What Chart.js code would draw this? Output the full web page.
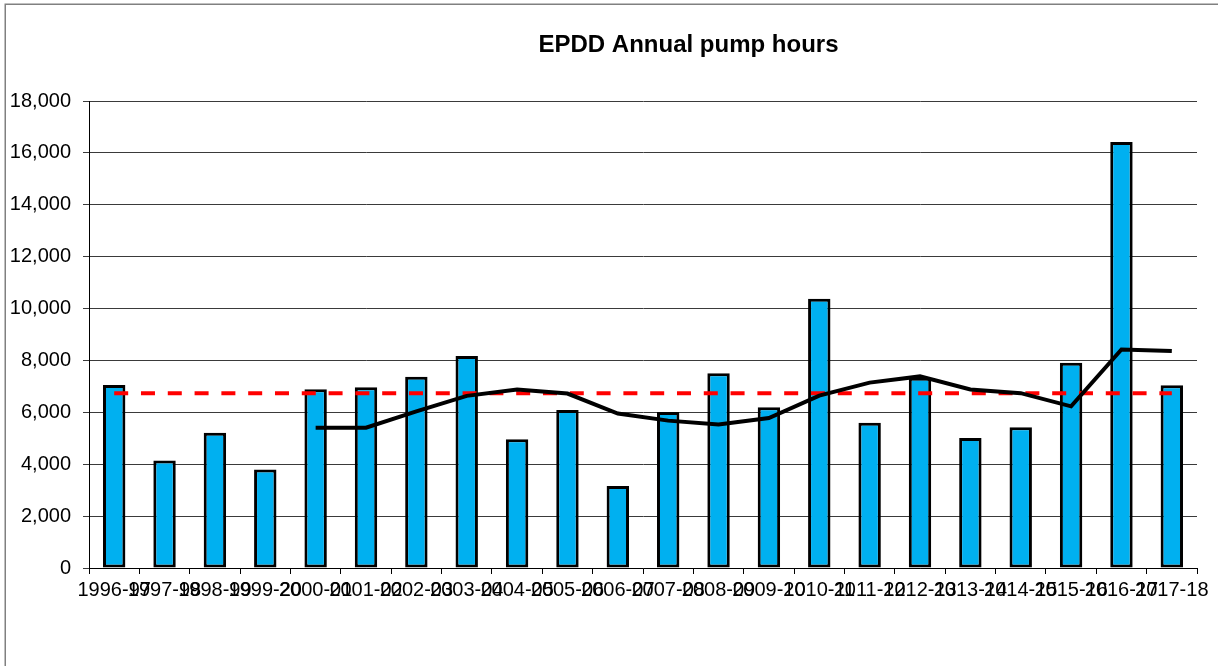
<!DOCTYPE html>
<html>
<head>
<meta charset="utf-8">
<script src="https://cdn.jsdelivr.net/npm/chart.js@4"></script>
<style>
html,body{margin:0;padding:0;background:#fff;}
#wrap{width:1218px;height:666px;position:relative;}
</style>
</head>
<body>
<div id="wrap"><canvas id="c"></canvas></div>
<script>
const categories = ["1996-97","1997-98","1998-99","1999-20","2000-01","2001-02","2002-03","2003-04","2004-05","2005-06","2006-07","2007-08","2008-09","2009-10","2010-11","2011-12","2012-13","2013-14","2014-15","2015-16","2016-17","2017-18"];
const pumpHours = [7050,4140,5215,3800,6890,6965,7375,8170,4960,6090,3160,6015,7505,6195,10380,5600,7330,5010,5425,7915,16420,7045];
const movingAverage = [null,null,null,null,5410,5405,6040,6635,6880,6725,5955,5680,5530,5780,6645,7145,7385,6880,6740,6230,8425,8360];
const meanLine = [6740,6740,6740,6740,6740,6740,6740,6740,6740,6740,6740,6740,6740,6740,6740,6740,6740,6740,6740,6740,6740,6740];
const yTicks = [0,2000,4000,6000,8000,10000,12000,14000,16000,18000];
const titleText = "EPDD Annual pump hours";

const FONT = '"Liberation Sans", Arial, sans-serif';

const decor = {
  id: 'decor',
  beforeDraw(chart) {
    const ctx = chart.ctx;
    ctx.save();
    ctx.fillStyle = '#fff';
    ctx.fillRect(0, 0, chart.width, chart.height);
    ctx.strokeStyle = '#808080';
    ctx.lineWidth = 1.5;
    ctx.strokeRect(5.25, 4.25, 1400, 700);
    ctx.restore();
  },
  afterDraw(chart) {
    const ctx = chart.ctx;
    ctx.save();
    ctx.font = 'bold 24px ' + FONT;
    ctx.fillStyle = '#000';
    ctx.textAlign = 'center';
    ctx.textBaseline = 'alphabetic';
    ctx.fillText(titleText, 688.5, 52);
    ctx.restore();
  }
};

new Chart(document.getElementById('c'), {
  type: 'bar',
  data: {
    labels: categories,
    datasets: [
      {
        type: 'line',
        label: 'Moving average',
        data: movingAverage,
        borderColor: '#000',
        borderWidth: 4,
        pointRadius: 0,
        tension: 0,
        fill: false,
        order: 1
      },
      {
        type: 'line',
        label: 'Mean',
        data: meanLine,
        borderColor: '#FF0000',
        borderWidth: 4,
        borderDash: [14, 12.8],
        borderCapStyle: 'butt',
        pointRadius: 0,
        tension: 0,
        fill: false,
        order: 2
      },
      {
        type: 'bar',
        label: 'Pump hours',
        data: pumpHours,
        backgroundColor: '#00B0F0',
        borderColor: '#000',
        borderWidth: 3,
        borderSkipped: false,
        categoryPercentage: 1.0,
        barPercentage: 0.445,
        order: 3
      }
    ]
  },
  options: {
    responsive: true,
    maintainAspectRatio: false,
    animation: false,
    devicePixelRatio: 1,
    layout: { padding: { left: 0, top: 101, right: 21, bottom: 0 } },
    plugins: {
      legend: { display: false },
      title: { display: false },
      tooltip: { enabled: false }
    },
    scales: {
      x: {
        offset: true,
        grid: {
          offset: true,
          drawOnChartArea: false,
          drawTicks: true,
          tickLength: 6,
          color: '#000',
          lineWidth: 1
        },
        border: { color: '#000', width: 1 },
        ticks: {
          autoSkip: false,
          maxRotation: 0,
          minRotation: 0,
          padding: 4,
          color: '#000',
          font: { family: FONT, size: 20 }
        },
        afterFit(scale) { scale.height = 98; }
      },
      y: {
        min: 0,
        max: 18000,
        afterBuildTicks(scale) { scale.ticks = yTicks.map(v => ({ value: v })); },
        grid: {
          color: '#3a3a3a',
          lineWidth: 1,
          drawTicks: true,
          tickLength: 6
        },
        border: { color: '#000', width: 1 },
        ticks: {
          padding: 12,
          color: '#000',
          font: { family: FONT, size: 20 },
          callback: v => Number(v).toLocaleString('en-US')
        },
        afterFit(scale) { scale.width = 89; }
      }
    }
  },
  plugins: [decor]
});
</script>
</body>
</html>
